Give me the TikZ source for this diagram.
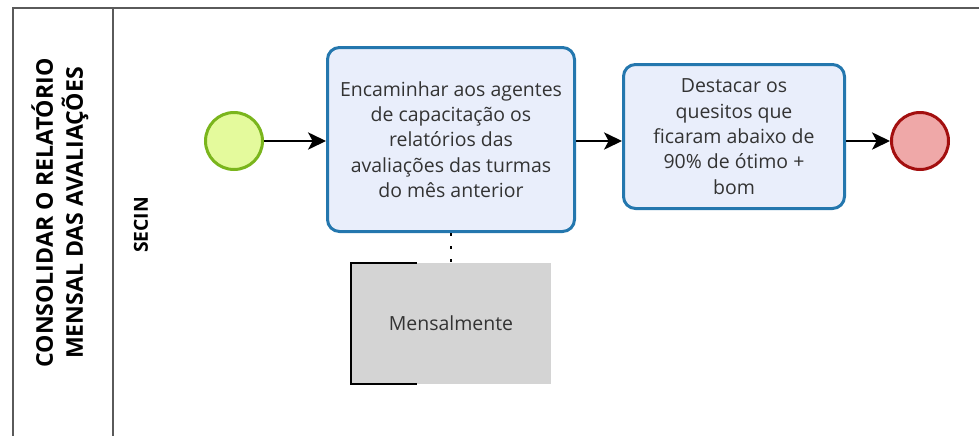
\documentclass[tikz,border=0pt]{standalone}
\usepackage{fontspec}
\setmainfont{Open Sans}
\usetikzlibrary{arrows.meta,positioning}

\definecolor{startline}{HTML}{7AB51C}
\definecolor{startfill}{HTML}{E4FA9C}
\definecolor{endline}{HTML}{A30F0F}
\definecolor{endfill}{HTML}{EFA8A8}
\definecolor{taskline}{HTML}{2477AE}
\definecolor{taskfill}{HTML}{E9EEFB}
\definecolor{annotfill}{HTML}{D4D4D4}
\definecolor{poolgray}{HTML}{5A5A5A}

\begin{document}
\begin{tikzpicture}[x=0.75pt,y=-0.75pt,
    poolline/.style={draw=poolgray, line width=1.8pt},
    startevt/.style={circle, draw=startline, fill=startfill, line width=2.25pt, minimum size=42.75pt, inner sep=0pt},
    endevt/.style={circle, draw=endline, fill=endfill, line width=2.25pt, minimum size=42.75pt, inner sep=0pt},
    taskbox/.style={draw=taskline, fill=taskfill, line width=2.25pt, rounded corners=9pt, align=center,
        text=black!80, font=\fontsize{14.6pt}{19pt}\selectfont},
    annotbox/.style={fill=annotfill, minimum width=150pt, minimum height=90.75pt, align=center,
        text=black!80, font=\fontsize{14.6pt}{19pt}\selectfont},
    seqflow/.style={draw=black, line width=1.1pt, -{Stealth[length=13.5pt, width=13pt, inset=3.5pt]}},
    assocline/.style={draw=black, line width=1.5pt, dash pattern=on 2.25pt off 7.5pt}
  ]

    % Fix the page size to the whole picture
    \useasboundingbox (0,0) rectangle (979,436);

    % Pool and lane borders
    \draw[poolline] (979,8) -- (13,8) -- (13,436);
    \draw[poolline] (113,8) -- (113,436);

    % Pool title, written upwards
    \node[rotate=90, align=center, font=\fontsize{17.3pt}{22.5pt}\selectfont\bfseries] (pooltitle) at (60,213)
        {CONSOLIDAR O RELATÓRIO\\MENSAL DAS AVALIAÇÕES};

    % Lane title
    \node[rotate=90, font=\fontsize{14.5pt}{17pt}\selectfont\bfseries] (lanetitle) at (141,225) {SECIN};

    % Start and end events
    \node[startevt] (start) at (234,141) {};
    \node[endevt] (end) at (920,141) {};

    % The two tasks
    \node[taskbox, minimum width=185.25pt, minimum height=138pt] (encaminhar) at (451,139.5)
        {Encaminhar aos agentes\\de capacitação os\\relatórios das\\avaliações das turmas\\do mês anterior};
    \node[taskbox, minimum width=165.75pt, minimum height=108pt] (destacar) at (734,136.5)
        {Destacar os\\quesitos que\\ficaram abaixo de\\90\% de ótimo +\\bom};

    % Annotation below the first task
    \node[annotbox] (mensal) at (451,323.5) {Mensalmente};
    \draw[line width=1.5pt] ([xshift=49.5pt]mensal.north west) -- (mensal.north west)
        -- (mensal.south west) -- ([xshift=50pt]mensal.south west);

    % Sequence flows
    \draw[seqflow] (start) -- (encaminhar.west |- start);
    \draw[seqflow] (encaminhar.east |- start) -- (destacar.west |- start);
    \draw[seqflow] (destacar.east |- end) -- (end);

    % Association to the annotation
    \draw[assocline] (encaminhar.south) -- (mensal.north);

\end{tikzpicture}
\end{document}
